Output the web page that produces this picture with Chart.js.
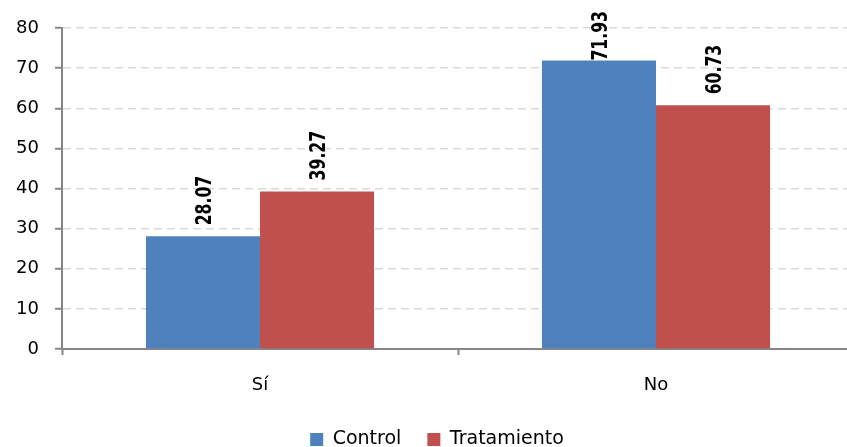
<!DOCTYPE html>
<html>
<head>
<meta charset="utf-8">
<script src="https://cdn.jsdelivr.net/npm/chart.js@4"></script>
<style>
    html, body { margin: 0; padding: 0; overflow: hidden; background: #fff; }
    #wrap { width: 854px; height: 447px; }
</style>
</head>
<body>
<div id="wrap"><canvas id="respuestas"></canvas></div>
<script>
const categories = ['Sí', 'No'];
const controlValues = [28.07, 71.93];
const tratamientoValues = [39.27, 60.73];
const yTicks = [0, 10, 20, 30, 40, 50, 60, 70, 80];

const axisGrey = '#868686';
const labelSquash = 0.83; // narrow bold digits like the original

// rotated value labels above each bar, pushed down if they would leave the top
const barLabels = {
    id: 'barLabels',
    afterLayout(chart) {
        // legend sits a bit right of centre in the original
        chart.legend.left += 10;
        chart.legend.right += 10;
    },
    afterDatasetsDraw(chart) {
        const ctx = chart.ctx;
        ctx.save();
        ctx.font = "bold 21px 'DejaVu Sans Condensed', sans-serif";
        ctx.fillStyle = '#000';
        ctx.textAlign = 'left';
        ctx.textBaseline = 'middle';
        chart.data.datasets.forEach((ds, i) => {
            chart.getDatasetMeta(i).data.forEach((bar, j) => {
                const text = ds.data[j].toFixed(2);
                const len = ctx.measureText(text).width * labelSquash;
                let bottom = bar.y - 11;
                if (bottom - len < 11) {
                    bottom = 11 + len;
                }
                ctx.save();
                ctx.translate(bar.x + 3, bottom);
                ctx.rotate(-Math.PI / 2);
                ctx.scale(labelSquash, 1);
                ctx.fillText(text, 0, 0);
                ctx.restore();
            });
        });
        ctx.restore();
    }
};

const ctx = document.getElementById('respuestas');

new Chart(ctx, {
    type: 'bar',
    data: {
        labels: categories,
        datasets: [
            {
                label: 'Control',
                data: controlValues,
                backgroundColor: '#4F81BD'
            },
            {
                label: 'Tratamiento',
                data: tratamientoValues,
                backgroundColor: '#C0504D'
            }
        ]
    },
    options: {
        responsive: true,
        maintainAspectRatio: false,
        animation: false,
        layout: {
            padding: { top: 28, left: 0, right: 0, bottom: -12 }
        },
        datasets: {
            bar: {
                categoryPercentage: 0.576,
                barPercentage: 1.0
            }
        },
        plugins: {
            legend: {
                position: 'bottom',
                labels: {
                    boxWidth: 13,
                    boxHeight: 13,
                    padding: 26,
                    color: '#000',
                    font: { family: 'DejaVu Sans', size: 19 }
                }
            },
            tooltip: { enabled: false }
        },
        scales: {
            x: {
                grid: {
                    offset: true,
                    drawOnChartArea: false,
                    tickLength: 6,
                    tickColor: axisGrey,
                    tickWidth: 2
                },
                border: { color: axisGrey, width: 2 },
                ticks: {
                    padding: 20,
                    color: '#000',
                    font: { family: 'DejaVu Sans', size: 18 }
                },
                afterFit: s => { s.height = 55; }
            },
            y: {
                min: 0,
                max: 80,
                afterBuildTicks: s => { s.ticks = yTicks.map(v => ({ value: v })); },
                grid: {
                    color: '#d9d9d9',
                    lineWidth: 1.5,
                    tickLength: 7,
                    tickColor: axisGrey,
                    tickWidth: 2
                },
                border: { color: axisGrey, width: 2, dash: [8, 5] },
                ticks: {
                    padding: 16,
                    color: '#000',
                    font: { family: 'DejaVu Sans', size: 18 }
                },
                afterFit: s => { s.width = 62; }
            }
        }
    },
    plugins: [barLabels]
});
</script>
</body>
</html>
